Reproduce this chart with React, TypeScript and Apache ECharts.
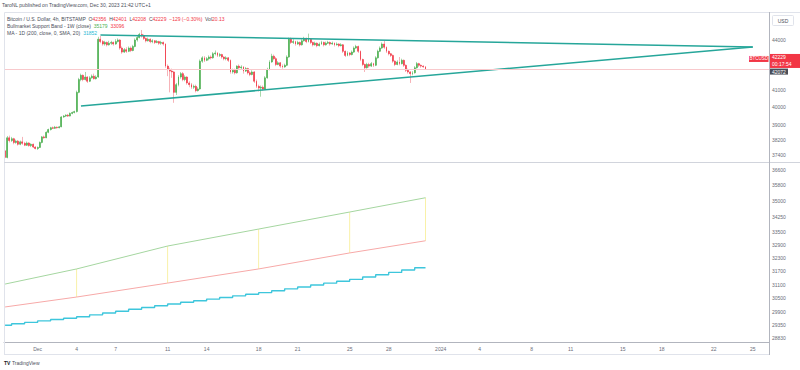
import { useEffect, useRef } from 'react';
import * as echarts from 'echarts';

// ---------- data ----------
const FIRST_CANDLE = '2023-11-28 12:00';
const AXIS_END = '2024-01-26 04:00';

// 4h candles: [open, close, low, high]
const candles: number[][] = [
  [37600, 37250, 37200, 37650], [37250, 38300, 37200, 38400], [38300, 38150, 38050, 38420], [38150, 38250, 38080, 38350],
  [38250, 38050, 37950, 38300], [38050, 38120, 37980, 38200], [38120, 37950, 37880, 38180], [37950, 38080, 37900, 38150],
  [38080, 38000, 37920, 38350], [38000, 37900, 37850, 38080], [37900, 38020, 37860, 38100], [38020, 37880, 37820, 38060],
  [37880, 37950, 37800, 38000], [37950, 37800, 37750, 37990], [37800, 37720, 37680, 37850], [37720, 37780, 37650, 37830],
  [37780, 38050, 37750, 38100], [38050, 38350, 38000, 38400], [38350, 38300, 38250, 38420], [38300, 38600, 38280, 38650],
  [38600, 38750, 38550, 38800], [38750, 38850, 38700, 38900], [38850, 38820, 38780, 38920], [38820, 38880, 38790, 38950],
  [38880, 38850, 38800, 38920], [38850, 38900, 38820, 38950], [38900, 39450, 38880, 39500], [39450, 39500, 39400, 39560],
  [39500, 39550, 39450, 39600], [39550, 39500, 39450, 39620], [39500, 39650, 39480, 39700], [39650, 39700, 39600, 39750],
  [39700, 39750, 39650, 39800], [39750, 40850, 39700, 40950], [40850, 41600, 40800, 41700], [41600, 41850, 41500, 41950],
  [41850, 41600, 41500, 41900], [41600, 41750, 41550, 42050], [41750, 41500, 41400, 41800], [41500, 41700, 41450, 41800],
  [41700, 41800, 41650, 41900], [41800, 41650, 41600, 41950], [41650, 41750, 41600, 41850], [41750, 44050, 41700, 44200],
  [44050, 43900, 43800, 44250], [43900, 43750, 43650, 44000], [43750, 43850, 43650, 43950], [43850, 43700, 43600, 43900],
  [43700, 43800, 43650, 43950], [43800, 43850, 43700, 43950], [43850, 43750, 43650, 43900], [43750, 43900, 43700, 44050],
  [43900, 44000, 43850, 44100], [44000, 43500, 43400, 44050], [43500, 43250, 43150, 43600], [43250, 43400, 43200, 43500],
  [43400, 43300, 43200, 43550], [43300, 43500, 43250, 43600], [43500, 43350, 43250, 43600], [43350, 43600, 43300, 43700],
  [43600, 44000, 43550, 44100], [44000, 44150, 43900, 44250], [44150, 44350, 44100, 44450], [44350, 44250, 44150, 44630],
  [44250, 44100, 44000, 44350], [44100, 43950, 43850, 44150], [43950, 44050, 43900, 44150], [44050, 43900, 43800, 44100],
  [43900, 43950, 43800, 44050], [43950, 43850, 43750, 44000], [43850, 43900, 43800, 44000], [43900, 43800, 43700, 43950],
  [43800, 43850, 43700, 43950], [43850, 43750, 43650, 43900], [43750, 42400, 42300, 43800], [42400, 42200, 41800, 42500],
  [42200, 42100, 40850, 42300], [42100, 42050, 41700, 42250], [42050, 40850, 40250, 42100], [40850, 41300, 40700, 41400],
  [41300, 41750, 41200, 41850], [41750, 41950, 41650, 42050], [41950, 41600, 41500, 42050], [41600, 41750, 41500, 41850],
  [41750, 41400, 41300, 41800], [41400, 41300, 41150, 41500], [41300, 41150, 41050, 41400], [41150, 41200, 41050, 41300],
  [41200, 40950, 40850, 41300], [40950, 41050, 40900, 41150], [41050, 42700, 41000, 42800], [42700, 42900, 42600, 43000],
  [42900, 42750, 42650, 43000], [42750, 42850, 42700, 42950], [42850, 42950, 42750, 43050], [42950, 42900, 42800, 43050],
  [42900, 43150, 42850, 43250], [43150, 43200, 43050, 43350], [43200, 43050, 42950, 43250], [43050, 43100, 42950, 43200],
  [43100, 42950, 42850, 43150], [42950, 42850, 42750, 43000], [42850, 42900, 42750, 43000], [42900, 42750, 42650, 42950],
  [42750, 42050, 41950, 42800], [42050, 42150, 41950, 42250], [42150, 42000, 41900, 42250], [42000, 42400, 41950, 42450],
  [42400, 42300, 42200, 42500], [42300, 42350, 42200, 42450], [42350, 42100, 41950, 42400], [42100, 42250, 42050, 42350],
  [42250, 42000, 41900, 42300], [42000, 41900, 41800, 42100], [41900, 42050, 41850, 42150], [42050, 41500, 41400, 42100],
  [41500, 41200, 41100, 41600], [41200, 41100, 40900, 41300], [41100, 41150, 40600, 41250], [41150, 41050, 40950, 41250],
  [41050, 41700, 41000, 41800], [41700, 42200, 41650, 42300], [42200, 42650, 42150, 42750], [42650, 43000, 42600, 43150],
  [43000, 42850, 42750, 43100], [42850, 42500, 42400, 42950], [42500, 42600, 42450, 42700], [42600, 42400, 42300, 42650],
  [42400, 42350, 42250, 42500], [42350, 42450, 42300, 42550], [42450, 42950, 42400, 43050], [42950, 44050, 42900, 44150],
  [44050, 43850, 43750, 44150], [43850, 43900, 43750, 44050], [43900, 43750, 43650, 43950], [43750, 43850, 43700, 43950],
  [43850, 43700, 43600, 43900], [43700, 43950, 43650, 44050], [43950, 44100, 43900, 44200], [44100, 43900, 43800, 44150],
  [43900, 44050, 43850, 44400], [44050, 43850, 43750, 44100], [43850, 43700, 43600, 43900], [43700, 43800, 43650, 43900],
  [43800, 43650, 43550, 43850], [43650, 43750, 43600, 43850], [43750, 43850, 43700, 43950], [43850, 43700, 43600, 43900],
  [43700, 43800, 43650, 43900], [43800, 43850, 43750, 43950], [43850, 43750, 43650, 43900], [43750, 43800, 43700, 43900],
  [43800, 43700, 43600, 43850], [43700, 43750, 43650, 43850], [43750, 43650, 43550, 43800], [43650, 43700, 43600, 43800],
  [43700, 43300, 43200, 43750], [43300, 43050, 42950, 43350], [43050, 43200, 43000, 43300], [43200, 43100, 43000, 43250],
  [43100, 43250, 43050, 43350], [43250, 43500, 43200, 43600], [43500, 43600, 43450, 43700], [43600, 43300, 43200, 43650],
  [43300, 42800, 42700, 43350], [42800, 42500, 42400, 42850], [42500, 42300, 42050, 42550], [42300, 42500, 42250, 42600],
  [42500, 42400, 42300, 42600], [42400, 42550, 42350, 42650], [42550, 42450, 42350, 42600], [42450, 42900, 42400, 43000],
  [42900, 43300, 42850, 43400], [43300, 43500, 43250, 43600], [43500, 43750, 43450, 43850], [43750, 43550, 43450, 43950],
  [43550, 43300, 43200, 43600], [43300, 43150, 43050, 43350], [43150, 43050, 42950, 43200], [43050, 42700, 42600, 43100],
  [42700, 42500, 42400, 42750], [42500, 42650, 42450, 42750], [42650, 42550, 42450, 42950], [42550, 42750, 42500, 42850],
  [42750, 42450, 42350, 42800], [42450, 42150, 42050, 42500], [42150, 42050, 41950, 42250], [42050, 41950, 41400, 42100],
  [41950, 42000, 41850, 42100], [42000, 42300, 41950, 42400], [42300, 42550, 42250, 42650], [42550, 42450, 42350, 42600],
  [42450, 42400, 42300, 42500], [42400, 42356, 42300, 42450], [42356, 42229, 42208, 42401],
];

// MA 1D (200 SMA) — one value per day starting Nov 28
const maDaily = [
  29360, 29420, 29478, 29540, 29598, 29655, 29717, 29795, 29872, 29950, 30030, 30105, 30183, 30260, 30330, 30400, 30468,
  30540, 30610, 30680, 30748, 30830, 30915, 30998, 31082, 31166, 31250, 31334, 31438, 31540, 31645, 31750, 31852,
];

// Bullmarket Support Band (weekly)
const bandDates = ['2023-11-28 12:00', '2023-12-04 00:00', '2023-12-11 00:00', '2023-12-18 00:00', '2023-12-25 00:00', '2023-12-30 20:00'];
const bandGreen = [31126, 31800, 32851, 33651, 34474, 35179];
const bandRed = [30131, 30558, 31169, 31800, 32530, 33096];

// Drawn trendlines (triangle)
const upperTrend: [string, number][] = [['2023-12-05 20:00', 44313], ['2024-01-25 00:00', 43565]];
const lowerTrend: [string, number][] = [['2023-12-04 08:00', 40068], ['2024-01-25 00:00', 43565]];

const priceTicksTop = [44000, 43000, 41000, 40000, 39000, 38200, 37400];
const priceTicksBottom = [36600, 35800, 35000, 34250, 33500, 32900, 32300, 31700, 31100, 30500, 29900, 29350, 28830];
const paneTopRange = [37008, 45783];
const paneBottomRange = [28670, 36956];

const dateTicks: [string, string][] = [
  ['2023-12-01 00:00', 'Dec'], ['2023-12-04 00:00', '4'], ['2023-12-07 00:00', '7'], ['2023-12-11 00:00', '11'],
  ['2023-12-14 00:00', '14'], ['2023-12-18 00:00', '18'], ['2023-12-21 00:00', '21'], ['2023-12-25 00:00', '25'],
  ['2023-12-28 00:00', '28'], ['2024-01-01 00:00', '2024'], ['2024-01-04 00:00', '4'], ['2024-01-08 00:00', '8'],
  ['2024-01-11 00:00', '11'], ['2024-01-15 00:00', '15'], ['2024-01-18 00:00', '18'], ['2024-01-22 00:00', '22'],
  ['2024-01-25 00:00', '25'],
];

const lastPrice = 42229;
const markerPrice = 42072;
const lastLabel = ['42229', '00:17:54'];

// ---------- helpers ----------
const FONT = 'Liberation Sans, Arial, sans-serif';
const pad = (n: number) => String(n).padStart(2, '0');
const fmt = (t: number) => {
  const d = new Date(t);
  return `${d.getUTCFullYear()}-${pad(d.getUTCMonth() + 1)}-${pad(d.getUTCDate())} ${pad(d.getUTCHours())}:00`;
};
const parse = (s: string) => Date.UTC(+s.slice(0, 4), +s.slice(5, 7) - 1, +s.slice(8, 10), +s.slice(11, 13));

export default function App() {
  const ref = useRef<HTMLDivElement>(null);

  useEffect(() => {
    if (!ref.current) return;
    const chart = echarts.init(ref.current, undefined, { renderer: 'svg' });

    const categories: string[] = [];
    for (let t = parse(FIRST_CANDLE); t <= parse(AXIS_END); t += 4 * 3600e3) categories.push(fmt(t));
    const tickMap: Record<string, string> = {};
    dateTicks.forEach(([d, l]) => (tickMap[d] = l));
    const tickIdx = new Set(dateTicks.map(([d]) => categories.indexOf(d)));

    const L = Math.log;
    const wickData = candles.map((c) => c.map(L));
    const bodyData = candles.map(([o, c]) => [o, c, Math.min(o, c), Math.max(o, c)].map(L));

    const dayStart = parse('2023-11-28 00:00');
    const maData: [string, number][] = maDaily.map((v, d) => [d === 0 ? FIRST_CANDLE : fmt(dayStart + d * 86400e3), L(v)]);
    maData.push([categories[candles.length - 1], L(maDaily[maDaily.length - 1])]);

    const axisLabelCommon = { fontSize: 5, color: '#6a6d78', fontFamily: FONT, margin: 3 };
    const fmtPrice = (v: number) => String(Math.round(Math.exp(v)));

    const grey = '#b2b5be';

    chart.setOption({
      animation: false,
      backgroundColor: '#ffffff',
      grid: [
        { left: 4, top: 12, width: 765, height: 150 },
        { left: 4, top: 163, width: 765, height: 179 },
      ],
      xAxis: [
        {
          type: 'category', gridIndex: 0, data: categories, boundaryGap: true,
          axisLine: { show: false }, axisTick: { show: false }, axisLabel: { show: false }, splitLine: { show: false },
        },
        {
          type: 'category', gridIndex: 1, data: categories, boundaryGap: true,
          axisLine: { show: true, lineStyle: { color: grey, width: 1 } }, axisTick: { show: false },
          axisLabel: {
            ...axisLabelCommon, margin: 4,
            interval: (i: number) => tickIdx.has(i),
            formatter: (v: string) => tickMap[v] ?? '',
          },
          splitLine: { show: false },
        },
      ],
      yAxis: [
        {
          type: 'value', gridIndex: 0, position: 'right', min: L(paneTopRange[0]), max: L(paneTopRange[1]),
          axisLine: { show: false }, axisTick: { show: false }, splitLine: { show: false },
          axisLabel: { ...axisLabelCommon, customValues: priceTicksTop.map(L), formatter: fmtPrice },
        },
        {
          type: 'value', gridIndex: 1, position: 'right', min: L(paneBottomRange[0]), max: L(paneBottomRange[1]),
          axisLine: { show: false }, axisTick: { show: false }, splitLine: { show: false },
          axisLabel: { ...axisLabelCommon, customValues: priceTicksBottom.map(L), formatter: fmtPrice },
        },
      ],
      series: [
        {
          type: 'candlestick', name: 'wicks', xAxisIndex: 0, yAxisIndex: 0, data: wickData, barWidth: 0.4,
          itemStyle: { color: '#a9d8ab', color0: '#f6b3b8', borderColor: '#a9d8ab', borderColor0: '#f6b3b8', borderWidth: 1 },
          markLine: {
            silent: true, symbol: 'none', label: { show: false },
            lineStyle: { color: '#f8c9cc', width: 1, type: 'solid' },
            data: [{ yAxis: L(lastPrice) }],
          },
          z: 2,
        },
        {
          type: 'candlestick', name: 'bodies', xAxisIndex: 0, yAxisIndex: 0, data: bodyData, barWidth: 1.4,
          itemStyle: { color: '#4caf50', color0: '#f23645', borderColor: '#4caf50', borderColor0: '#f23645', borderWidth: 0.6 },
          z: 3,
        },
        {
          type: 'line', name: 'upper', xAxisIndex: 0, yAxisIndex: 0, data: upperTrend.map(([d, v]) => [d, L(v)]),
          symbol: 'none', lineStyle: { color: '#26a69a', width: 1.5 }, z: 4,
        },
        {
          type: 'line', name: 'lower', xAxisIndex: 0, yAxisIndex: 0, data: lowerTrend.map(([d, v]) => [d, L(v)]),
          symbol: 'none', lineStyle: { color: '#26a69a', width: 1.5 }, z: 4,
        },
        {
          type: 'custom', name: 'bandFill', xAxisIndex: 1, yAxisIndex: 1,
          data: bandDates.slice(1).map((d, k) => [d, L(bandRed[k + 1]), L(bandGreen[k + 1])]),
          encode: { x: 0, y: [1, 2] },
          renderItem: (_p: any, api: any) => {
            const x = api.value(0);
            const a = api.coord([x, api.value(1)]);
            const b = api.coord([x, api.value(2)]);
            return { type: 'line', shape: { x1: a[0], y1: a[1], x2: b[0], y2: b[1] }, style: { stroke: '#f9f1a8', lineWidth: 1 } };
          },
          z: 1,
        },
        {
          type: 'line', name: 'bandGreen', xAxisIndex: 1, yAxisIndex: 1, data: bandDates.map((d, k) => [d, L(bandGreen[k])]),
          symbol: 'none', lineStyle: { color: '#a5d6a0', width: 1 }, z: 2,
        },
        {
          type: 'line', name: 'bandRed', xAxisIndex: 1, yAxisIndex: 1, data: bandDates.map((d, k) => [d, L(bandRed[k])]),
          symbol: 'none', lineStyle: { color: '#f7a9a8', width: 1 }, z: 2,
        },
        {
          type: 'line', name: 'ma', xAxisIndex: 1, yAxisIndex: 1, data: maData, step: 'end',
          symbol: 'none', lineStyle: { color: '#3ec6dc', width: 1.4 }, z: 2,
        },
      ],
    });

    const pLast = chart.convertToPixel({ yAxisIndex: 0 }, L(lastPrice)) as number;
    const pMark = chart.convertToPixel({ yAxisIndex: 0 }, L(markerPrice)) as number;
    const txt = (x: number, y: number, text: string, fill: string, font = `5px ${FONT}`, extra: any = {}) => ({
      type: 'text', x, y, z: 100,
      style: { text, fill, font, verticalAlign: 'middle', ...extra },
    });
    const ln = (x1: number, y1: number, x2: number, y2: number, stroke: string) => ({
      type: 'line', z: 50, shape: { x1, y1, x2, y2 }, style: { stroke, lineWidth: 1 },
    });

    chart.setOption({
      graphic: [
        // frame
        ln(4.5, 12.5, 800, 12.5, '#e0e3eb'),
        ln(4.5, 12.5, 4.5, 354.5, '#e0e3eb'),
        ln(4, 162.5, 800, 162.5, '#d1d4dc'),
        ln(4, 354.5, 769, 354.5, '#e0e3eb'),
        ln(769.5, 12, 769.5, 355, grey),
        // USD box
        { type: 'rect', z: 100, shape: { x: 772.5, y: 15.5, width: 21, height: 10, r: 1 }, style: { fill: '#fff', stroke: '#e0e3eb', lineWidth: 1 } },
        txt(783, 20.5, 'USD', '#4a4e59', `5px ${FONT}`, { align: 'center' }),
        // last price tag
        { type: 'rect', z: 100, shape: { x: 770, y: pLast - 15, width: 30, height: 14 }, style: { fill: '#f23645' } },
        txt(772, pLast - 11.5, lastLabel[0], '#ffffff'),
        txt(772, pLast - 5, lastLabel[1], '#ffffff'),
        { type: 'rect', z: 100, shape: { x: 749, y: pLast - 13, width: 19.5, height: 6 }, style: { fill: '#f23645' } },
        txt(758.7, pLast - 10, 'BTCUSD', '#ffffff', `4.5px ${FONT}`, { align: 'center' }),
        // marker tag
        { type: 'rect', z: 100, shape: { x: 770, y: pMark - 3, width: 18, height: 6 }, style: { fill: '#4a4e59' } },
        txt(772, pMark, String(markerPrice), '#ffffff'),
        // header + legend
        txt(2, 4.5, 'TaroNL published on TradingView.com, Dec 30, 2023 21:42 UTC+1', '#4a4e59'),
        {
          type: 'text', x: 7, y: 19, z: 100,
          style: {
            text: '{n|Bitcoin / U.S. Dollar, 4h, BITSTAMP}  {n|O}{r|42356}  {n|H}{r|42401}  {n|L}{r|42208}  {n|C}{r|42229}  {r|−129 (−0.30%)}  {n|Vol}{r|20.13}',
            font: `5px ${FONT}`, verticalAlign: 'middle',
            rich: { n: { fill: '#4a4e59', fontSize: 5, fontFamily: FONT }, r: { fill: '#f23645', fontSize: 5, fontFamily: FONT } },
          },
        },
        {
          type: 'text', x: 7, y: 26, z: 100,
          style: {
            text: '{n|Bullmarket Support Band - 1W (close)}  {g|35179}  {r|33096}',
            font: `5px ${FONT}`, verticalAlign: 'middle',
            rich: {
              n: { fill: '#4a4e59', fontSize: 5, fontFamily: FONT },
              g: { fill: '#4caf50', fontSize: 5, fontFamily: FONT },
              r: { fill: '#f23645', fontSize: 5, fontFamily: FONT },
            },
          },
        },
        {
          type: 'text', x: 7, y: 33, z: 100,
          style: {
            text: '{n|MA - 1D (200, close, 0, SMA, 20)}  {c|31852}',
            font: `5px ${FONT}`, verticalAlign: 'middle',
            rich: { n: { fill: '#4a4e59', fontSize: 5, fontFamily: FONT }, c: { fill: '#26b8d4', fontSize: 5, fontFamily: FONT } },
          },
        },
        // watermark
        txt(4, 363, 'TV', '#131722', `bold 5px ${FONT}`),
        txt(12, 363, 'TradingView', '#4a4e59', `5px ${FONT}`),
      ],
    });

    return () => chart.dispose();
  }, []);

  return <div ref={ref} style={{ position: 'fixed', left: 0, top: 0, width: 800, height: 370, background: '#fff' }} />;
}
